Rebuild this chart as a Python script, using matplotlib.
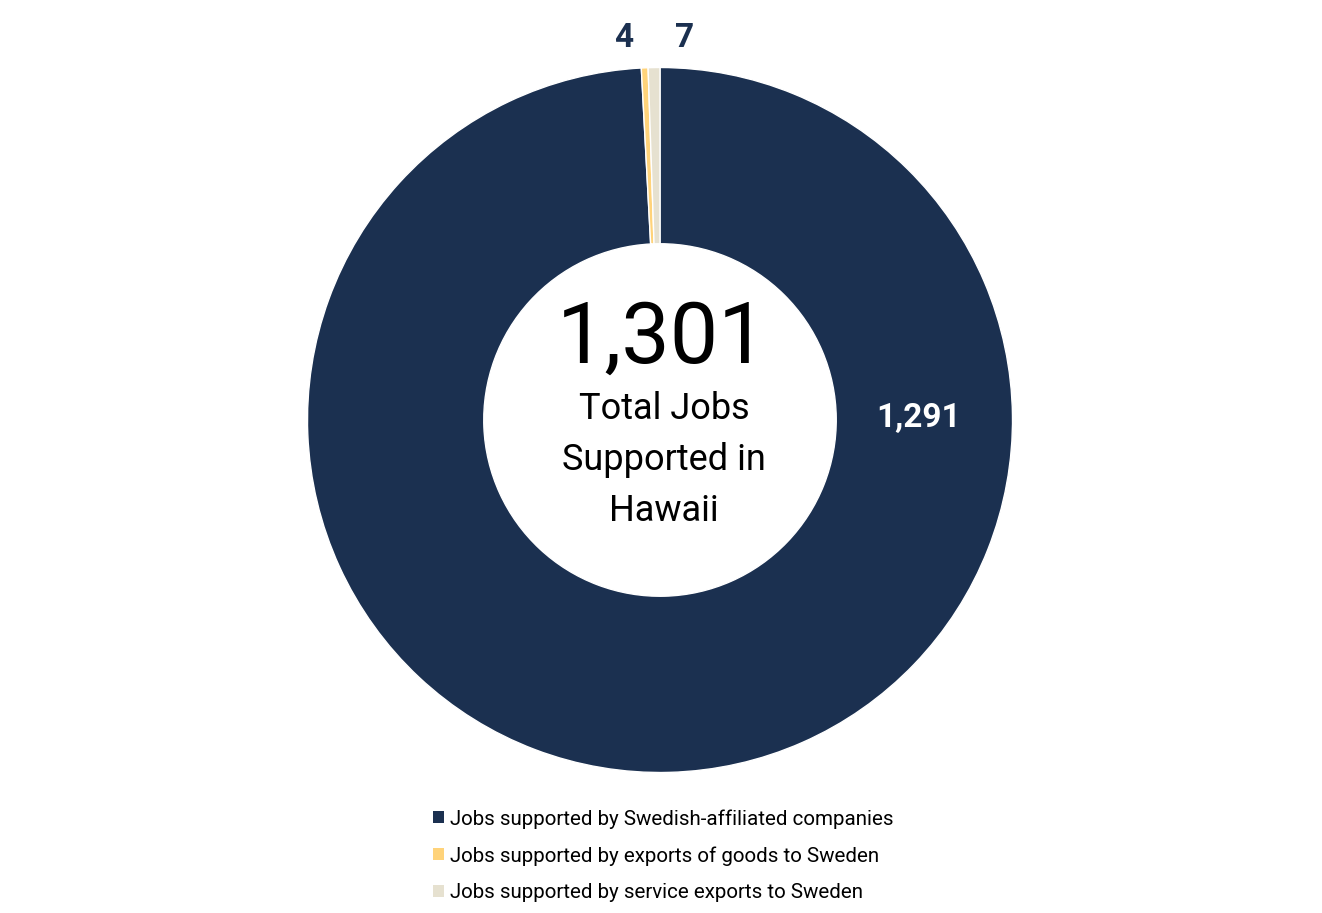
import matplotlib
matplotlib.use("Agg")
import matplotlib.pyplot as plt

categories = ["Jobs supported by Swedish-affiliated companies",
              "Jobs supported by exports of goods to Sweden",
              "Jobs supported by service exports to Sweden"]
values = [1291, 4, 7]
value_labels = ["1,291", "4", "7"]
colors = ["#1B3050", "#FFD37A", "#E6E1D0"]
total_label = "1,301"
center_text = "Total Jobs\nSupported in\nHawaii"

W, H = 1322, 913
fig = plt.figure(figsize=(W / 100, H / 100), dpi=100)
ax = fig.add_axes([0, 0, 1, 1])

cx, cy, R = 660, H - 420, 352.5
wedges, _ = ax.pie(values, colors=colors, startangle=90, counterclock=False,
                   radius=R, center=(cx, cy),
                   wedgeprops=dict(width=R * 0.5, edgecolor="white", linewidth=1))
ax.set_xlim(0, W)
ax.set_ylim(0, H)
ax.set_aspect("equal")
ax.axis("off")

font = "Roboto"
# value labels
ax.text(919, H - 418, value_labels[0], color="white", fontsize=24, fontweight="bold",
        family=font, ha="center", va="center")
ax.text(624, H - 38, value_labels[1], color="#1B3050", fontsize=24, fontweight="bold",
        family=font, ha="center", va="center")
ax.text(685, H - 38, value_labels[2], color="#1B3050", fontsize=24, fontweight="bold",
        family=font, ha="center", va="center")

ax.text(cx + 2, H - 339, total_label, color="black", fontsize=62, family=font,
        ha="center", va="center")
ax.text(cx + 4, H - 460, center_text, color="black", fontsize=26, family=font,
        ha="center", va="center", linespacing=1.52)

leg = ax.legend(wedges, categories, loc="upper left",
                bbox_to_anchor=(433 / W, 1 - 809 / H), bbox_transform=fig.transFigure,
                frameon=False, prop=dict(family=font, size=14.8),
                handlelength=0.55, handleheight=0.55, handletextpad=0.3,
                labelspacing=0.85, borderpad=0, borderaxespad=0)
for h in leg.legend_handles:
    h.set_edgecolor("none")

fig.savefig("out.png", dpi=100, facecolor="white")
